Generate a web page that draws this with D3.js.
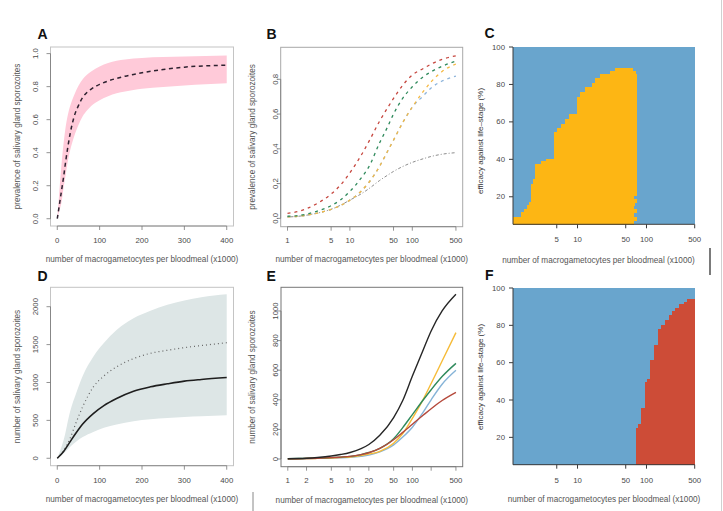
<!DOCTYPE html>
<html><head><meta charset="utf-8">
<script src="https://cdn.jsdelivr.net/npm/d3@7"></script>
<style>body{margin:0;background:#fff}svg text{font-family:"Liberation Sans",Arial,sans-serif}</style>
</head><body><svg id="c" width="723" height="511"></svg>
<script>
// ================= DATA =================
const linXTicks = [0, 100, 200, 300, 400];
const logXTicksB = [1, 5, 10, 50, 100, 500];
const logXTicksE = [1, 2, 5, 10, 20, 50, 100, 200, 500];
const logXLabelsE = ["1", "2", "5", "10", "20", "50", "100", "", "500"];
const logXTicksCF = [5, 10, 50, 100, 500];
const probTicksA = [0, 0.2, 0.4, 0.6, 0.8, 1.0];
const probTicksB = [0, 0.2, 0.4, 0.6, 0.8];
const effTicks = [20, 40, 60, 80, 100];
const countTicksD = [0, 500, 1000, 1500, 2000];
const countTicksE = [0, 200, 400, 600, 800, 1000];

// Panel A: prevalence vs gametocytes (linear)
const aX     = [0, 5, 10, 15, 20, 25, 30, 40, 50, 60, 70, 80, 100, 120, 140, 160, 180, 200, 250, 300, 350, 400];
const aMean  = [0, 0.085, 0.17, 0.255, 0.35, 0.435, 0.51, 0.62, 0.685, 0.735, 0.765, 0.785, 0.814, 0.834, 0.85, 0.863, 0.874, 0.884, 0.904, 0.918, 0.926, 0.93];
const aUpper = [0, 0.17, 0.33, 0.46, 0.56, 0.63, 0.68, 0.75, 0.805, 0.845, 0.872, 0.892, 0.922, 0.943, 0.957, 0.964, 0.97, 0.974, 0.979, 0.983, 0.986, 0.988];
const aLower = [0, 0.05, 0.10, 0.19, 0.27, 0.35, 0.41, 0.50, 0.568, 0.62, 0.655, 0.683, 0.718, 0.742, 0.76, 0.771, 0.78, 0.787, 0.798, 0.807, 0.814, 0.82];

// Panel B: prevalence vs gametocytes (log), five scenarios
const bX      = [1, 1.5, 2, 3, 5, 7, 10, 15, 20, 30, 40, 50, 70, 100, 150, 200, 300, 500];
const bRed    = [0.029, 0.04, 0.055, 0.086, 0.14, 0.19, 0.262, 0.36, 0.44, 0.56, 0.635, 0.69, 0.765, 0.825, 0.862, 0.887, 0.915, 0.935];
const bGreen  = [0.012, 0.017, 0.024, 0.042, 0.073, 0.105, 0.155, 0.23, 0.295, 0.435, 0.525, 0.60, 0.69, 0.757, 0.815, 0.843, 0.875, 0.905];
const bOrange = [0.008, 0.012, 0.018, 0.03, 0.052, 0.073, 0.105, 0.155, 0.205, 0.30, 0.385, 0.45, 0.55, 0.64, 0.73, 0.785, 0.845, 0.888];
const bBlue   = [0.008, 0.012, 0.018, 0.03, 0.052, 0.073, 0.105, 0.155, 0.205, 0.30, 0.385, 0.45, 0.55, 0.64, 0.705, 0.75, 0.79, 0.818];
const bGrey   = [0.008, 0.012, 0.018, 0.03, 0.052, 0.075, 0.105, 0.14, 0.17, 0.218, 0.248, 0.27, 0.298, 0.322, 0.343, 0.356, 0.369, 0.378];

// Panel C: efficacy bands where the orange region lies
const cEdges = [5.3, 7.4, 9.2, 11.9, 13.7, 15.5, 17.2, 19, 20.8, 27, 29.7, 37.7, 39, 40.4, 54.6, 57, 59, 61.5, 64.4, 73.3, 76, 78.6, 81, 83.5, 85.8, 87, 88.8];
const cXmin  = [1.16, 1.16, 1.5, 1.7, 1.85, 2.0, 2.09, 2.09, 2.09, 2.26, 2.45, 3.0, 3.5, 4.52, 5.0, 5.8, 6.6, 7.6, 9.89, 11, 13, 16, 18, 21, 30, 35];
const cXmax  = [67, 73, 67, 73, 66, 68, 73, 67, 73, 73, 73, 73, 73, 73, 73, 73, 73, 73, 73, 73, 73, 73, 73, 73, 71, 63];

// Panel D: sporozoite numbers vs gametocytes (linear)
const dX      = [0, 15, 30, 45, 60, 85, 110, 140, 180, 220, 260, 300, 340, 400];
const dMedian = [0, 90, 216, 340, 452, 590, 695, 789, 885, 943, 983, 1018, 1040, 1066];
const dMean   = [0, 100, 260, 480, 680, 940, 1085, 1207, 1315, 1385, 1425, 1460, 1487, 1525];
const dUpper  = [0, 240, 612, 865, 1085, 1339, 1520, 1692, 1846, 1946, 2025, 2081, 2125, 2163];
const dLower  = [0, 65, 150, 222, 280, 348, 402, 445, 489, 515, 533, 546, 555, 568];

// Panel E: sporozoite numbers vs gametocytes (log), five scenarios
const eX      = [1, 1.5, 2, 3, 5, 7, 10, 15, 20, 30, 50, 70, 100, 150, 200, 300, 500];
const eBlack  = [2, 3, 5, 10, 20, 30, 44, 70, 98, 160, 280, 395, 560, 740, 865, 1000, 1113];
const eOrange = [1, 2, 3, 4, 7, 10, 14, 23, 33, 52, 107, 172, 275, 405, 510, 662, 854];
const eGreen  = [2, 3, 4, 6, 9, 13, 18, 30, 44, 72, 137, 212, 300, 400, 468, 557, 646];
const eBlue   = [1, 2, 3, 4, 6, 8, 11, 18, 26, 48, 95, 148, 215, 318, 400, 505, 599];
const eRed    = [1, 2, 3, 5, 9, 13, 18, 30, 42, 71, 130, 180, 235, 297, 340, 395, 450];

// Panel F: efficacy bands (red region on the right)
const fEdges = [5.3, 24.8, 27, 35.5, 49.7, 51.5, 61.3, 69.3, 78.2, 80, 83, 85.4, 87.5, 89.5, 91.5, 92.5, 94.3];
const fXmin  = [69.8, 75, 83.6, 95.5, 101, 113, 129, 149, 165, 185, 209, 232, 262, 300, 345, 386];
const fXmaxValue = 500;

const xTitle = "number of macrogametocytes per bloodmeal (x1000)";

// ================= DRAW =================
const svg = d3.select("#c");
svg.append("rect").attr("width", 723).attr("height", 511).attr("fill", "#fff");

const TICK_FS = 7.8, TITLE_FS = 8.2, LAB = "#4a4a4a", TIT = "#555";

function zip(xs, ys) { return xs.map((v, i) => [v, ys[i]]); }

function rAxes(p) {
  const { x, y, boxColor, xTicks, xLabels, yTicks, yFmt, xLabelY, yLabelX, xTitleY, yTitleX, yTitle, yTitleY } = p;
  const [x0, x1] = x.range(), [y1, y0] = y.range();
  svg.append("rect").attr("x", x0).attr("y", y0).attr("width", x1 - x0).attr("height", y1 - y0)
    .attr("fill", "none").attr("stroke", boxColor).attr("stroke-width", 1);
  const g = svg.append("g").attr("stroke", "#777").attr("stroke-width", 0.8);
  g.append("line").attr("x1", x(xTicks[0])).attr("x2", x(xTicks[xTicks.length - 1])).attr("y1", y1).attr("y2", y1);
  xTicks.forEach(t => g.append("line").attr("x1", x(t)).attr("x2", x(t)).attr("y1", y1).attr("y2", y1 + 4));
  g.append("line").attr("y1", y(yTicks[0])).attr("y2", y(yTicks[yTicks.length - 1])).attr("x1", x0).attr("x2", x0);
  yTicks.forEach(t => g.append("line").attr("y1", y(t)).attr("y2", y(t)).attr("x1", x0).attr("x2", x0 - 4));
  xTicks.forEach((t, i) => svg.append("text").attr("x", x(t)).attr("y", xLabelY).attr("text-anchor", "middle")
    .attr("dominant-baseline", "central").attr("font-size", TICK_FS).attr("fill", LAB).text(xLabels[i]));
  yTicks.forEach(t => svg.append("text").attr("transform", `translate(${yLabelX},${y(t)}) rotate(-90)`)
    .attr("text-anchor", "middle").attr("dominant-baseline", "central").attr("font-size", TICK_FS).attr("fill", LAB).text(yFmt(t)));
  svg.append("text").attr("x", (x0 + x1) / 2).attr("y", xTitleY).attr("text-anchor", "middle").attr("dominant-baseline", "central")
    .attr("font-size", TITLE_FS).attr("fill", TIT).text(xTitle);
  svg.append("text").attr("transform", `translate(${yTitleX},${yTitleY || (y0 + y1) / 2}) rotate(-90)`).attr("text-anchor", "middle")
    .attr("dominant-baseline", "central").attr("font-size", TITLE_FS).attr("fill", TIT).text(yTitle);
}

function heatAxes(p) {
  const { x, y, xTicks, xLabelY, xTitleY, xTitleX, yTitleX, yTitleY } = p;
  const [x0, x1] = x.range(), [y1, y0] = y.range();
  const g = svg.append("g").attr("stroke", "#3a3a3a").attr("stroke-width", 1);
  g.append("line").attr("x1", x0).attr("x2", x1).attr("y1", y1).attr("y2", y1);
  g.append("line").attr("x1", x0).attr("x2", x0).attr("y1", y0).attr("y2", y1);
  xTicks.forEach(t => g.append("line").attr("x1", x(t)).attr("x2", x(t)).attr("y1", y1).attr("y2", y1 + 4));
  effTicks.forEach(t => g.append("line").attr("y1", y(t)).attr("y2", y(t)).attr("x1", x0).attr("x2", x0 - 4));
  xTicks.forEach(t => svg.append("text").attr("x", x(t)).attr("y", xLabelY).attr("text-anchor", "middle")
    .attr("dominant-baseline", "central").attr("font-size", TICK_FS).attr("fill", LAB).text(t));
  effTicks.forEach(t => svg.append("text").attr("x", x0 - 8).attr("y", y(t)).attr("text-anchor", "end")
    .attr("dominant-baseline", "central").attr("font-size", TICK_FS).attr("fill", LAB).text(t));
  svg.append("text").attr("x", xTitleX).attr("y", xTitleY).attr("text-anchor", "middle").attr("dominant-baseline", "central")
    .attr("font-size", TITLE_FS).attr("fill", TIT).text(xTitle);
  svg.append("text").attr("transform", `translate(${yTitleX},${yTitleY}) rotate(-90)`).attr("text-anchor", "middle")
    .attr("dominant-baseline", "central").attr("font-size", 8).attr("fill", "#333").text("efficacy against life\u2013stage (%)");
}

function letter(t, x, y) {
  svg.append("text").attr("x", x).attr("y", y).attr("font-size", 14).attr("font-weight", "bold").attr("fill", "#111").text(t);
}

// ---------- Panel A ----------
{
  const x = d3.scaleLinear().domain([-16, 416]).range([50.5, 233.5]);
  const y = d3.scaleLinear().domain([-0.044, 1.04]).range([226, 47]);
  const area = d3.area().x(d => x(d[0])).y0(d => y(d[2])).y1(d => y(d[1])).curve(d3.curveMonotoneX);
  svg.append("path").datum(aX.map((v, i) => [v, aUpper[i], aLower[i]])).attr("d", area).attr("fill", "#ffcad9");
  const line = d3.line().x(d => x(d[0])).y(d => y(d[1])).curve(d3.curveMonotoneX);
  svg.append("path").datum(zip(aX, aMean)).attr("d", line).attr("fill", "none").attr("stroke", "#2e2230")
    .attr("stroke-width", 1.5).attr("stroke-dasharray", "4,3.5");
  rAxes({ x, y, boxColor: "#c4c4c4", xTicks: linXTicks, xLabels: linXTicks.map(String), yTicks: probTicksA,
    yFmt: d3.format(".1f"), xLabelY: 240.7, yLabelX: 35, xTitleY: 259.3, yTitleX: 17,
    yTitle: "prevalence of salivary gland sporozoites" });
  letter("A", 37.5, 38.5);
}

// ---------- Panel B ----------
{
  const x = d3.scaleLog().domain([0.778, 642]).range([280.7, 462.7]);
  const y = d3.scaleLinear().domain([-0.048, 0.984]).range([226.7, 47.3]);
  const line = d3.line().x(d => x(d[0])).y(d => y(d[1])).curve(d3.curveMonotoneX);
  const series = [
    [bGrey, "#8c8c8c", "1,2,3,2", 1.0],
    [bBlue, "#8db4db", "3,4", 1.3],
    [bOrange, "#f5b943", "3,4", 1.3],
    [bGreen, "#2f8a5c", "3,4", 1.3],
    [bRed, "#c6463e", "3,4", 1.3]
  ];
  series.forEach(([vals, col, dash, w]) => svg.append("path").datum(zip(bX, vals)).attr("d", line)
    .attr("fill", "none").attr("stroke", col).attr("stroke-width", w).attr("stroke-dasharray", dash));
  rAxes({ x, y, boxColor: "#a8a8a8", xTicks: logXTicksB, xLabels: logXTicksB.map(String), yTicks: probTicksB,
    yFmt: d3.format(".1f"), xLabelY: 240.7, yLabelX: 275, xTitleY: 259, yTitleX: 252.7,
    yTitle: "prevalence of salivary gland sporozoites" });
  letter("B", 266.5, 38.5);
}

// ---------- Panel C ----------
{
  const x = d3.scaleLog().domain([1.16, 500]).range([513, 694.7]);
  const y = d3.scaleLinear().domain([5.3, 100]).range([224.3, 47]);
  const g = svg.append("g").attr("shape-rendering", "crispEdges");
  g.append("rect").attr("x", x(1.16)).attr("y", y(100)).attr("width", x(500) - x(1.16)).attr("height", y(5.3) - y(100)).attr("fill", "#69a5cd");
  cXmin.forEach((lo, i) => g.append("rect").attr("x", x(lo)).attr("width", x(cXmax[i]) - x(lo))
    .attr("y", y(cEdges[i + 1])).attr("height", y(cEdges[i]) - y(cEdges[i + 1]) + 0.6).attr("fill", "#fdb614"));
  heatAxes({ x, y, xTicks: logXTicksCF, xLabelY: 239.3, xTitleY: 260, xTitleX: 598.5, yTitleX: 480.5, yTitleY: 141 });
  letter("C", 484.5, 37.5);
}

// ---------- Panel D ----------
{
  const x = d3.scaleLinear().domain([-16, 416]).range([50.5, 233.5]);
  const y = d3.scaleLinear().domain([-98, 2256]).range([465.7, 287.3]);
  const area = d3.area().x(d => x(d[0])).y0(d => y(d[2])).y1(d => y(d[1])).curve(d3.curveMonotoneX);
  svg.append("path").datum(dX.map((v, i) => [v, dUpper[i], dLower[i]])).attr("d", area).attr("fill", "#dde6e6");
  const line = d3.line().x(d => x(d[0])).y(d => y(d[1])).curve(d3.curveMonotoneX);
  svg.append("path").datum(zip(dX, dMean)).attr("d", line).attr("fill", "none").attr("stroke", "#666")
    .attr("stroke-width", 1.2).attr("stroke-dasharray", "1,3");
  svg.append("path").datum(zip(dX, dMedian)).attr("d", line).attr("fill", "none").attr("stroke", "#1e1e1e").attr("stroke-width", 1.6);
  rAxes({ x, y, boxColor: "#c4c4c4", xTicks: linXTicks, xLabels: linXTicks.map(String), yTicks: countTicksD,
    yFmt: String, xLabelY: 480, yLabelX: 35, xTitleY: 499, yTitleX: 17,
    yTitle: "number of salivary gland sporozoites" });
  letter("D", 37.5, 281);
}

// ---------- Panel E ----------
{
  const x = d3.scaleLog().domain([0.778, 642]).range([281, 462.7]);
  const y = d3.scaleLinear().domain([-52, 1160]).range([466.7, 287.3]);
  const line = d3.line().x(d => x(d[0])).y(d => y(d[1])).curve(d3.curveMonotoneX);
  const series = [
    [eBlue, "#86b4d8"], [eOrange, "#f6bb38"], [eGreen, "#2f8a5c"], [eRed, "#b5493b"], [eBlack, "#262626"]
  ];
  series.forEach(([vals, col]) => svg.append("path").datum(zip(eX, vals)).attr("d", line)
    .attr("fill", "none").attr("stroke", col).attr("stroke-width", 1.4));
  rAxes({ x, y, boxColor: "#777", xTicks: logXTicksE, xLabels: logXLabelsE, yTicks: countTicksE,
    yFmt: String, xLabelY: 480.7, yLabelX: 275, xTitleY: 500, yTitleX: 252,
    yTitle: "number of salivary gland sporozoites" });
  letter("E", 266.5, 281);
}

// ---------- Panel F ----------
{
  const x = d3.scaleLog().domain([1.16, 500]).range([513, 694.7]);
  const y = d3.scaleLinear().domain([5.35, 100]).range([464.7, 288]);
  const g = svg.append("g").attr("shape-rendering", "crispEdges");
  g.append("rect").attr("x", x(1.16)).attr("y", y(100)).attr("width", x(500) - x(1.16)).attr("height", y(5.35) - y(100)).attr("fill", "#69a5cd");
  fXmin.forEach((lo, i) => g.append("rect").attr("x", x(lo)).attr("width", x(fXmaxValue) - x(lo))
    .attr("y", y(fEdges[i + 1])).attr("height", y(fEdges[i]) - y(fEdges[i + 1]) + 0.6).attr("fill", "#cd4c37"));
  heatAxes({ x, y, xTicks: logXTicksCF, xLabelY: 480.7, xTitleY: 499.3, xTitleX: 604, yTitleX: 480.5, yTitleY: 377 });
  letter("F", 485, 279.5);
}

// ---------- frame decorations ----------
svg.append("line").attr("x1", 721.5).attr("x2", 721.5).attr("y1", 0).attr("y2", 511).attr("stroke", "#d0d0d0");
svg.append("line").attr("x1", 710).attr("x2", 710).attr("y1", 248).attr("y2", 275).attr("stroke", "#222").attr("stroke-width", 1.2);
svg.append("line").attr("x1", 253).attr("x2", 253).attr("y1", 492).attr("y2", 511).attr("stroke", "#888");
</script></body></html>
